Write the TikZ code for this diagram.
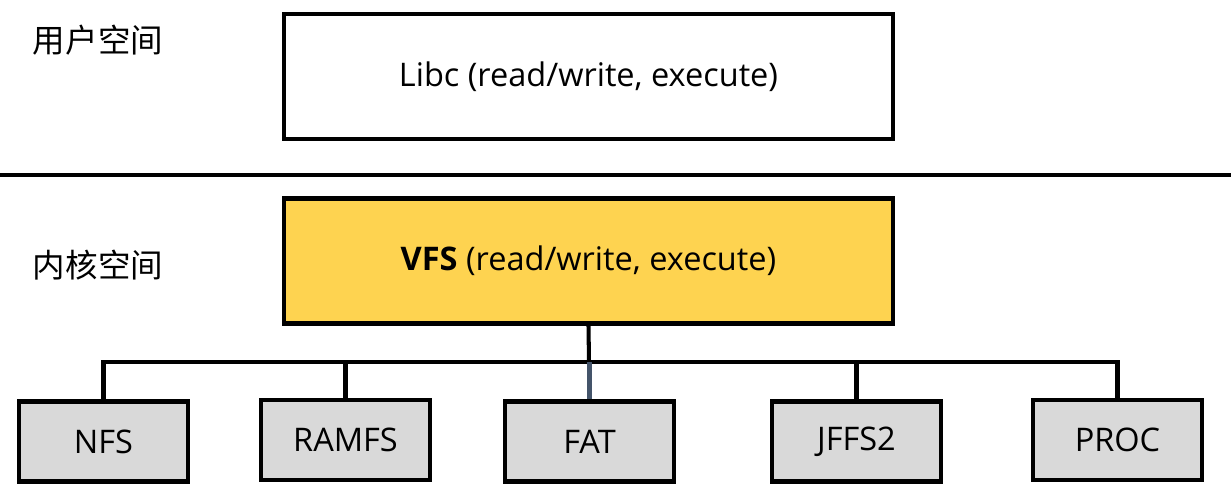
\documentclass[tikz,border=0pt]{standalone}
\usepackage{fontspec}
\setmainfont{Open Sans}
\newfontfamily\cjk{Noto Sans CJK SC}
\usepackage{tikz}

\begin{document}
\begin{tikzpicture}[x=0.02cm, y=-0.02cm,
  bigBox/.style={draw, line width=2.7pt, minimum width=12.18cm, minimum height=2.5cm, inner sep=0pt, font=\fontsize{18.5}{22}\selectfont},
  fsBox/.style={draw, line width=2.7pt, fill=colFs, minimum width=3.38cm, minimum height=1.6cm, inner sep=0pt, font=\fontsize{18.5}{22}\selectfont},
  conn/.style={line width=2.3pt},
  zona/.style={font=\cjk\fontsize{18.5}{22}\selectfont}]

% Colori
\definecolor{colVfs}{HTML}{FED350}
\definecolor{colFs}{HTML}{D9D9D9}
\definecolor{lineBlue}{HTML}{44546A}

\useasboundingbox (0,0) rectangle (1231,497);

% Spazi
\node[zona] (user) at (98,40) {用户空间};
\node[zona] (kernel) at (98,265) {内核空间};
\coordinate (sepL) at (0,175);
\coordinate (sepR) at (1231,175);
\draw[line width=2.3pt] (sepL) -- (sepR);

% Libc e VFS
\node[bigBox] (libc) at (588.5,76.5) {Libc (read/write, execute)};
\node[bigBox, fill=colVfs] (vfs) at (588.5,261) {\textbf{VFS} (read/write, execute)};

% File system
\node[fsBox] (nfs) at (103.5,441.5) {NFS};
\node[fsBox] (ramfs) at (345.5,440) {RAMFS};
\node[fsBox] (fat) at (589.5,441.5) {FAT};
\node[fsBox] (jffs) at (856.5,441.5) {JFFS2};
\node[fsBox] (proc) at (1117.5,440) {PROC};

% Collegamenti
\coordinate (hub) at (589,362);
\draw[conn] (vfs.south) -- (hub);
\draw[conn] (nfs.north) |- (hub) -| (proc.north);
\draw[conn] (ramfs.north) -- (ramfs.north |- hub);
\draw[conn] (jffs.north) -- (jffs.north |- hub);
\draw[conn, lineBlue] (fat.north) -- (fat.north |- hub);

\end{tikzpicture}
\end{document}
